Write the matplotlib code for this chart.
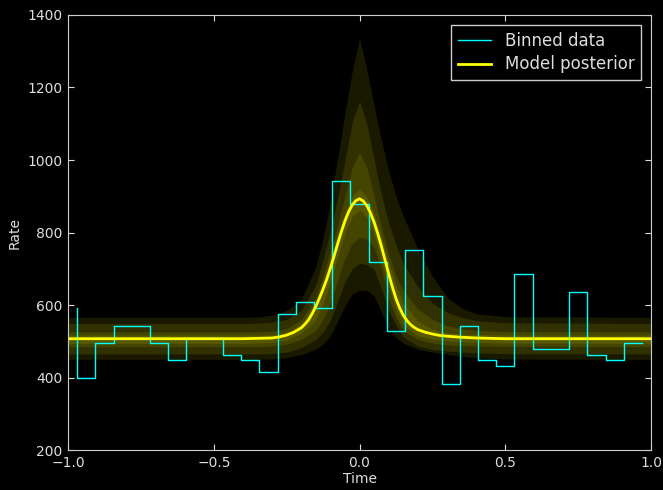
import numpy as np
import matplotlib.pyplot as plt

# binned light curve (bin centres of 32 bins over [-1, 1])
edges = np.linspace(-1, 1, 33)
time = (edges[:-1] + edges[1:]) / 2
rate = [591, 398, 495, 542, 542, 495, 447, 510, 510, 462, 447, 415, 574, 607, 591, 943,
        878, 718, 527, 751, 624, 382, 541, 447, 431, 686, 478, 478, 637, 461, 447, 494]

# posterior median (finer sampling around the peak)
med_t = ([-1.0, -0.4, -0.35, -0.3, -0.275, -0.25, -0.225]
         + list(np.linspace(-0.2, 0.2, 33))
         + [0.225, 0.25, 0.275, 0.3, 0.35, 0.4, 0.5, 1.0])
med_rate = ([507, 507, 508, 509, 512, 517, 525]
            + [537, 547, 559, 576, 596, 619, 644, 671, 702, 735, 769, 802, 832, 857, 876, 888,
               893,
               887, 874, 854, 828, 797, 762, 724, 686, 650, 618, 592, 572, 557, 546, 538, 532]
            + [525, 520, 516, 514, 511, 509, 507, 507])

# posterior bands (outer -> inner)
band_t = [-1.0, -0.4, -0.35, -0.3, -0.25, -0.2, -0.15, -0.125, -0.1, -0.075, -0.05, -0.025, 0.0,
          0.025, 0.05, 0.075, 0.1, 0.125, 0.15, 0.2, 0.25, 0.3, 0.35, 0.4, 0.5, 1.0]
upper = [
    [566, 566, 567, 572, 585, 615, 705, 785, 885, 1005, 1130, 1245, 1336,
     1250, 1150, 1055, 970, 900, 845, 755, 680, 622, 592, 576, 568, 566],
    [549, 549, 550, 553, 560, 585, 655, 725, 805, 895, 1000, 1105, 1163,
     1100, 1000, 905, 825, 765, 715, 650, 605, 580, 566, 557, 551, 549],
    [526, 526, 526, 528, 535, 560, 620, 680, 748, 820, 900, 980, 1021,
     980, 900, 815, 740, 680, 640, 590, 560, 543, 535, 530, 527, 526],
    [517, 517, 517, 518, 524, 548, 610, 665, 730, 795, 855, 900, 920,
     898, 852, 788, 715, 655, 605, 555, 533, 524, 520, 519, 517, 517],
]
lower = [
    [450, 450, 450, 451, 455, 463, 478, 492, 515, 555, 598, 630, 641,
     640, 625, 580, 535, 510, 495, 478, 470, 464, 458, 455, 451, 450],
    [465, 465, 465, 466, 470, 482, 505, 525, 558, 610, 665, 700, 715,
     712, 698, 645, 585, 545, 512, 487, 478, 473, 470, 468, 466, 465],
    [485, 485, 485, 487, 492, 505, 530, 560, 605, 670, 728, 770, 788,
     782, 758, 700, 618, 565, 530, 505, 495, 490, 488, 487, 486, 485],
    [494, 494, 495, 497, 504, 522, 560, 605, 665, 735, 800, 845, 862,
     842, 795, 725, 650, 590, 545, 515, 506, 502, 499, 497, 495, 494],
]

fg = '#dddddd'
fig = plt.figure(figsize=(6.63, 4.9), dpi=100, facecolor='black')
ax = fig.add_axes([0.1026, 0.0816, 0.8794, 0.8878], facecolor='black')

ax.plot(time, rate, drawstyle='steps', color='cyan', lw=1, label='Binned data')
for lo, hi in zip(lower, upper):
    ax.fill_between(band_t, lo, hi, color='yellow', alpha=0.1, lw=0)
ax.plot(med_t, med_rate, color='yellow', lw=2, label='Model posterior')

ax.set_xlim(-1, 1)
ax.set_ylim(200, 1400)
ax.set_xticks([-1.0, -0.5, 0.0, 0.5, 1.0])
ax.set_yticks(range(200, 1401, 200))
ax.set_xlabel('Time', color=fg, fontsize=10, labelpad=2)
ax.set_ylabel('Rate', color=fg, fontsize=10)
ax.tick_params(direction='in', top=True, right=True, length=4, color=fg,
               labelcolor=fg, labelsize=10, pad=4)
for s in ax.spines.values():
    s.set_color('#cccccc')

leg = ax.legend(loc='upper right', fontsize=12, fancybox=False, framealpha=1,
                facecolor='black', edgecolor='#cccccc', borderaxespad=0.6,
                labelspacing=0.35)
for t in leg.get_texts():
    t.set_color(fg)

fig.savefig('out.png', facecolor='black')
